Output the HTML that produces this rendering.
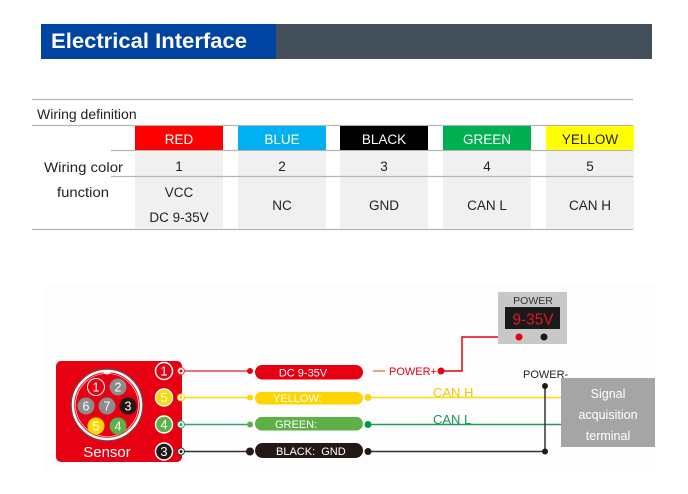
<!DOCTYPE html>
<html><head><meta charset="utf-8"><style>
html,body{margin:0;padding:0;background:#fff;}
svg{display:block;}
text{font-family:"Liberation Sans",sans-serif;}
</style></head><body>
<svg width="688" height="494" viewBox="0 0 688 494" xmlns="http://www.w3.org/2000/svg">
<rect x="0" y="0" width="688" height="494" fill="#fff"/>
<!-- header -->
<rect x="41" y="24" width="235" height="35" fill="#0044a1"/>
<rect x="276" y="24" width="376" height="35" fill="#434f5b"/>
<text x="51" y="48" font-size="21" font-weight="bold" fill="#fff" textLength="196" lengthAdjust="spacingAndGlyphs">Electrical Interface</text>

<!-- table -->
<g stroke="#b4b4b4" stroke-width="1.3">
<line x1="32" y1="99.5" x2="633" y2="99.5"/>
<line x1="32" y1="125.5" x2="633" y2="125.5"/>
<line x1="111" y1="150.5" x2="633" y2="150.5"/>
<line x1="32" y1="229.5" x2="633" y2="229.5"/>
</g>
<text x="37" y="119" font-size="14" fill="#222">Wiring definition</text>
<text x="83.5" y="172" font-size="14" fill="#222" text-anchor="middle" textLength="79" lengthAdjust="spacingAndGlyphs">Wiring color</text>
<text x="83" y="197" font-size="14" fill="#222" text-anchor="middle" textLength="52" lengthAdjust="spacingAndGlyphs">function</text>

<g>
<rect x="135" y="126" width="88" height="24" fill="#ff0000"/>
<rect x="238" y="126" width="88" height="24" fill="#00b0f0"/>
<rect x="340" y="126" width="88" height="24" fill="#000000"/>
<rect x="443" y="126" width="88" height="24" fill="#00b050"/>
<rect x="546" y="126" width="88" height="24" fill="#ffff00"/>
<rect x="135" y="151" width="88" height="78" fill="#f0f0f0"/>
<rect x="238" y="151" width="88" height="78" fill="#f0f0f0"/>
<rect x="340" y="151" width="88" height="78" fill="#f0f0f0"/>
<rect x="443" y="151" width="88" height="78" fill="#f0f0f0"/>
<rect x="546" y="151" width="88" height="78" fill="#f0f0f0"/>
</g>
<line x1="111" y1="176.5" x2="633" y2="176.5" stroke="#b4b4b4" stroke-width="1.3"/>
<g font-size="13.5" text-anchor="middle">
<text x="179" y="144" fill="#fff">RED</text>
<text x="282" y="144" fill="#fff">BLUE</text>
<text x="384" y="144" fill="#fff">BLACK</text>
<text x="487" y="144" fill="#fff">GREEN</text>
<text x="590" y="144" fill="#222">YELLOW</text>
<text x="179" y="171" fill="#222">1</text>
<text x="282" y="171" fill="#222">2</text>
<text x="384" y="171" fill="#222">3</text>
<text x="487" y="171" fill="#222">4</text>
<text x="590" y="171" fill="#222">5</text>
<text x="179" y="197" fill="#222">VCC</text>
<text x="179" y="222" fill="#222">DC 9-35V</text>
<text x="282" y="210" fill="#222">NC</text>
<text x="384" y="210" fill="#222">GND</text>
<text x="487" y="210" fill="#222">CAN L</text>
<text x="590" y="210" fill="#222">CAN H</text>
</g>

<!-- diagram background -->
<rect x="45" y="284" width="612" height="188" fill="#fdfdfd"/>

<!-- sensor box -->
<rect x="56" y="361" width="126" height="101" rx="5" fill="#e60012"/>
<circle cx="107" cy="405" r="36" fill="#e60012" stroke="#555" stroke-width="1"/>
<circle cx="107" cy="405" r="34" fill="none" stroke="#fff" stroke-width="2.5"/>
<circle cx="107" cy="405" r="31.5" fill="none" stroke="#fff" stroke-width="0.6"/>
<path d="M102.5 370 A4.5 4.5 0 0 0 111.5 370 Z" fill="#fff"/>
<g font-size="12.5" fill="#fff" text-anchor="middle">
<circle cx="96" cy="387" r="8.5" fill="#e60012" stroke="#fff" stroke-width="1"/><text x="96" y="391.5">1</text>
<circle cx="118" cy="387" r="8.5" fill="#8c8c8c"/><text x="118" y="391.5">2</text>
<circle cx="86" cy="406" r="8.5" fill="#8c8c8c"/><text x="86" y="410.5">6</text>
<circle cx="107" cy="406" r="8.5" fill="#8c8c8c"/><text x="107" y="410.5">7</text>
<circle cx="128" cy="406" r="8.5" fill="#231815"/><text x="128" y="410.5">3</text>
<circle cx="96" cy="426" r="8.5" fill="#ffd800"/><text x="96" y="430.5">5</text>
<circle cx="118" cy="426" r="8.5" fill="#5cb046"/><text x="118" y="430.5">4</text>
</g>
<text x="107" y="457" font-size="15" fill="#fff" text-anchor="middle">Sensor</text>

<!-- numbered pins on right -->
<g font-size="13" fill="#fff" text-anchor="middle">
<circle cx="164" cy="371" r="8.5" fill="#e60012" stroke="#fff" stroke-width="1.5"/><text x="164" y="375.5">1</text>
<circle cx="164" cy="397.5" r="8.5" fill="#ffd800" stroke="#fff" stroke-width="1.5"/><text x="164" y="402">5</text>
<circle cx="164" cy="424.5" r="8.5" fill="#5cb046" stroke="#fff" stroke-width="1.5"/><text x="164" y="429">4</text>
<circle cx="164" cy="451.5" r="8.5" fill="#231815" stroke="#fff" stroke-width="1.5"/><text x="164" y="456">3</text>
</g>

<!-- wires left segment -->
<line x1="181" y1="371" x2="250" y2="371" stroke="#e04848" stroke-width="1.5"/>
<line x1="181" y1="397.5" x2="250" y2="397.5" stroke="#ffd800" stroke-width="1.5"/>
<line x1="181" y1="424.5" x2="250" y2="424.5" stroke="#2fa56a" stroke-width="1.5"/>
<line x1="181" y1="451.5" x2="250" y2="451.5" stroke="#333" stroke-width="1.5"/>
<circle cx="181" cy="371" r="3.5" fill="#fff" stroke="#e04848" stroke-width="1"/><circle cx="181" cy="371" r="1.5" fill="#e60012"/>
<circle cx="181" cy="397.5" r="3.5" fill="#fff" stroke="#ffd800" stroke-width="1"/><circle cx="181" cy="397.5" r="1.5" fill="#ffd800"/>
<circle cx="181" cy="424.5" r="3.5" fill="#fff" stroke="#2fa56a" stroke-width="1"/><circle cx="181" cy="424.5" r="1.5" fill="#2fa56a"/>
<circle cx="181" cy="451.5" r="3.5" fill="#fff" stroke="#333" stroke-width="1"/><circle cx="181" cy="451.5" r="1.5" fill="#231815"/>
<circle cx="250" cy="371" r="3" fill="#e60012"/>
<circle cx="250" cy="397.5" r="3" fill="#ffd800"/>
<circle cx="250" cy="424.5" r="3" fill="#5cb046"/>
<circle cx="250" cy="451.5" r="4" fill="#231815"/>

<!-- pills -->
<rect x="255" y="365" width="108" height="14.5" rx="7.2" fill="#e60012"/>
<rect x="255" y="392" width="108" height="12.5" rx="6.2" fill="#ffd400"/>
<rect x="255" y="417" width="108" height="13.5" rx="6.7" fill="#5cb046"/>
<rect x="255" y="443" width="108" height="15" rx="7.5" fill="#231815"/>
<g font-size="11" fill="#fff">
<text x="303" y="376.5" text-anchor="middle">DC 9-35V</text>
<text x="273" y="402">YELLOW:</text>
<text x="275" y="428">GREEN:</text>
<text x="276" y="455" xml:space="preserve">BLACK:  GND</text>
</g>

<!-- right wires -->
<line x1="373" y1="371" x2="385" y2="371" stroke="#f08050" stroke-width="1.5"/>
<text x="389" y="375" font-size="11" fill="#e60012">POWER+</text>
<circle cx="441" cy="371" r="3.5" fill="#e60012"/>
<polyline points="441,371 462,371 462,337 519,337" fill="none" stroke="#e60012" stroke-width="1.5"/>

<line x1="368" y1="397.5" x2="561" y2="397.5" stroke="#ffd800" stroke-width="1.5"/>
<circle cx="368" cy="397.5" r="3.5" fill="#ffd400"/>
<text x="433" y="397" font-size="13" fill="#f5c800">CAN H</text>
<line x1="368" y1="424.5" x2="561" y2="424.5" stroke="#1f9a5c" stroke-width="1.5"/>
<circle cx="368" cy="424.5" r="3.5" fill="#009944"/>
<text x="433" y="424" font-size="13" fill="#1a9950">CAN L</text>
<line x1="368" y1="451.5" x2="545" y2="451.5" stroke="#333" stroke-width="1.5"/>
<circle cx="368" cy="451.5" r="3.5" fill="#231815"/>
<line x1="545" y1="386" x2="545" y2="451.5" stroke="#333" stroke-width="1.5"/>
<circle cx="545" cy="386" r="3" fill="#231815"/>
<circle cx="545" cy="451.5" r="3" fill="#231815"/>
<text x="523" y="378" font-size="11" fill="#222">POWER-</text>

<!-- power box -->
<rect x="498" y="292" width="69" height="52" fill="#c8c8c8"/>
<text x="533" y="304" font-size="10.5" fill="#333" text-anchor="middle">POWER</text>
<rect x="505" y="307" width="55" height="22" fill="#1a1a1a"/>
<text x="533" y="324.5" font-size="16" fill="#e0191f" text-anchor="middle" textLength="41" lengthAdjust="spacingAndGlyphs">9-35V</text>
<circle cx="519" cy="337" r="3.5" fill="#e60012"/>
<circle cx="544" cy="337" r="3.5" fill="#231815"/>

<!-- terminal -->
<rect x="561" y="378" width="94" height="69" fill="#a5a5a5"/>
<g font-size="12.5" fill="#fff" text-anchor="middle">
<text x="608" y="398">Signal</text>
<text x="608" y="419">acquisition</text>
<text x="608" y="440">terminal</text>
</g>
</svg>
</body></html>
